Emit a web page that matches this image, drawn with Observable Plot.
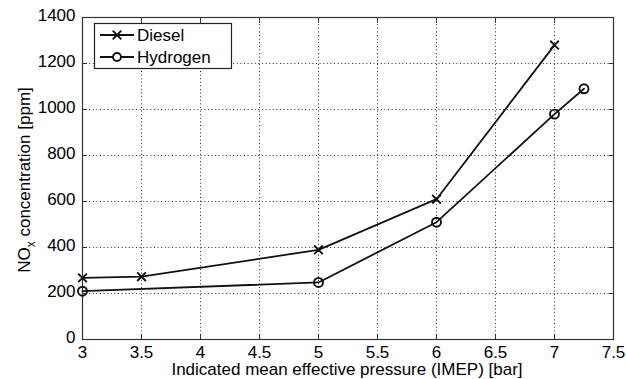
<!DOCTYPE html>
<html><head><meta charset="utf-8">
<script src="https://cdn.jsdelivr.net/npm/d3@7"></script>
<script src="https://cdn.jsdelivr.net/npm/@observablehq/plot@0.6"></script>
<style>
body{margin:0;background:#fff}
svg{font-family:"Liberation Sans",Arial,sans-serif}
</style>
</head><body><div id="chart"></div>
<script>
const dieselX = [3, 3.5, 5, 6, 7];
const dieselY = [268, 273, 390, 610, 1280];
const hydrogenX = [3, 5, 6, 7, 7.25];
const hydrogenY = [210, 248, 510, 980, 1090];
const xTicks = [3, 3.5, 4, 4.5, 5, 5.5, 6, 6.5, 7, 7.5];
const yTicks = [0, 200, 400, 600, 800, 1000, 1200, 1400];
const seriesNames = ["Diesel", "Hydrogen"];
const xLabel = "Indicated mean effective pressure (IMEP) [bar]";

const diesel = dieselX.map((x, i) => ({x, y: dieselY[i]}));
const hydrogen = hydrogenX.map((x, i) => ({x, y: hydrogenY[i]}));

const gridStyle = {stroke: "#111", strokeOpacity: 0.9, strokeWidth: 1, strokeDasharray: "1,2.6"};

const chart = Plot.plot({
  width: 626, height: 379,
  marginLeft: 82, marginRight: 13, marginTop: 17, marginBottom: 40,
  style: {fontSize: "17px", fontFamily: "'Liberation Sans', Arial, sans-serif", color: "black", background: "white"},
  x: {domain: [3, 7.5]},
  y: {domain: [0, 1400]},
  marks: [
    Plot.gridX(xTicks.slice(1, -1), gridStyle),
    Plot.gridY(yTicks.slice(1, -1), gridStyle),
    Plot.axisX(xTicks, {anchor: "bottom", tickSize: -5, tickPadding: 11, label: null, tickFormat: d => String(d), stroke: "#333"}),
    Plot.axisX(xTicks, {anchor: "top", tickSize: -5, tickFormat: () => "", label: null, stroke: "#333"}),
    Plot.axisY(yTicks, {anchor: "left", tickSize: -5, tickFormat: () => "", label: null, stroke: "#333"}),
    Plot.axisY(yTicks, {anchor: "left", tickSize: 0, tickPadding: 7, dy: -2, label: null, tickFormat: d => String(d)}),
    Plot.axisY(yTicks, {anchor: "right", tickSize: -5, tickFormat: () => "", label: null, stroke: "#333"}),
    Plot.frame({stroke: "#333", strokeWidth: 1.2}),
    Plot.line(diesel, {x: "x", y: "y", stroke: "#111", strokeWidth: 1.8}),
    Plot.dot(diesel, {x: "x", y: "y", symbol: "times", r: 4, stroke: "#111", strokeWidth: 1.9}),
    Plot.line(hydrogen, {x: "x", y: "y", stroke: "#111", strokeWidth: 1.8}),
    Plot.dot(hydrogen, {x: "x", y: "y", symbol: "circle", r: 4.5, stroke: "#111", fill: "none", strokeWidth: 1.9})
  ]
});
document.getElementById("chart").appendChild(chart);

const svg = d3.select(chart);
// y label with subscript
const yl = svg.append("text")
  .attr("transform", "translate(30,180) rotate(-90)")
  .attr("text-anchor", "middle")
  .attr("font-size", 17)
  .attr("fill", "black");
yl.append("tspan").text("NO");
yl.append("tspan").attr("font-size", 12).attr("dy", 5).text("x");
yl.append("tspan").attr("dy", -5).text(" concentration [ppm]");
// x label
svg.append("text")
  .attr("x", 347).attr("y", 375)
  .attr("text-anchor", "middle")
  .attr("font-size", 17)
  .attr("fill", "black")
  .text(xLabel);
// legend
const lg = svg.append("g").attr("text-anchor", "start");
lg.append("rect").attr("x", 94.5).attr("y", 23.5).attr("width", 137).attr("height", 45)
  .attr("fill", "white").attr("stroke", "#222").attr("stroke-width", 1.2);
const symbols = [d3.symbolTimes, d3.symbolCircle];
seriesNames.forEach((name, i) => {
  const yy = 35 + i * 22;
  lg.append("line").attr("x1", 100).attr("x2", 134).attr("y1", yy).attr("y2", yy)
    .attr("stroke", "#111").attr("stroke-width", 1.8);
  lg.append("path").attr("d", d3.symbol(symbols[i], 50)())
    .attr("transform", `translate(117,${yy})`)
    .attr("fill", i ? "white" : "none").attr("stroke", "#111").attr("stroke-width", 1.9);
  lg.append("text").attr("x", 137).attr("y", yy).attr("dy", "0.35em")
    .attr("text-anchor", "start")
    .attr("font-size", 17).attr("fill", "black").text(name);
});
</script>
</body></html>
